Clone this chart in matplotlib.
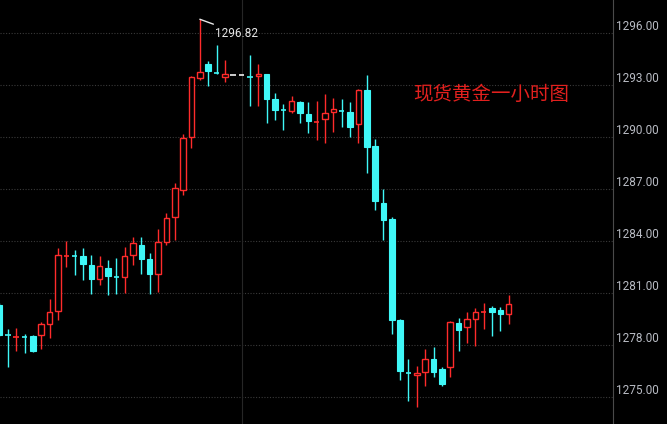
import matplotlib
matplotlib.use("Agg")
import matplotlib.pyplot as plt
from matplotlib.patches import Rectangle

# ---- data ----
opens = [1280.34, 1278.63, 1278.47, 1278.50, 1278.55, 1278.58, 1279.24, 1279.99, 1283.14, 1283.17,
         1283.16, 1282.64, 1281.84, 1282.47, 1281.96, 1281.95, 1283.22, 1283.80, 1282.99, 1282.12,
         1283.97, 1285.41, 1286.97, 1290.03, 1293.43, 1294.24, 1293.74, 1293.49, 1293.59, 1293.59,
         1293.52, 1293.55, 1293.66, 1292.22, 1291.61, 1291.53, 1292.05, 1291.36, 1290.87, 1291.07,
         1291.47, 1291.54, 1291.47, 1290.78, 1292.74, 1289.51, 1286.22, 1285.30, 1279.47, 1276.43,
         1276.30, 1276.47, 1277.22, 1276.64, 1276.76, 1279.30, 1279.07, 1279.53, 1279.92, 1280.16,
         1280.05, 1279.82]
highs = [1280.45, 1278.95, 1279.01, 1278.66, 1278.60, 1279.36, 1280.68, 1283.62, 1284.03, 1283.51,
         1283.62, 1283.22, 1283.16, 1282.93, 1283.05, 1283.68, 1284.26, 1284.26, 1283.34, 1284.72,
         1285.64, 1287.37, 1290.20, 1293.55, 1296.82, 1294.41, 1295.34, 1294.47, 1293.59, 1293.59,
         1294.76, 1294.24, 1293.66, 1292.57, 1291.93, 1292.39, 1292.11, 1292.05, 1292.11, 1292.51,
         1292.28, 1292.22, 1292.05, 1292.80, 1293.60, 1289.90, 1287.03, 1285.40, 1279.50, 1277.22,
         1276.82, 1277.80, 1277.91, 1276.76, 1279.40, 1279.59, 1279.93, 1280.16, 1280.45, 1280.28,
         1280.22, 1280.91]
lows = [1278.55, 1276.76, 1277.70, 1277.57, 1277.65, 1277.80, 1278.43, 1279.47, 1282.53, 1282.07,
        1281.78, 1280.97, 1281.49, 1280.91, 1280.97, 1281.03, 1282.64, 1282.12, 1280.97, 1281.09,
        1283.80, 1284.09, 1286.68, 1289.39, 1293.32, 1292.97, 1293.66, 1293.20, 1293.59, 1293.59,
        1291.82, 1291.82, 1290.84, 1291.01, 1290.43, 1291.41, 1290.84, 1290.26, 1289.86, 1289.68,
        1290.32, 1290.61, 1290.03, 1289.68, 1287.95, 1285.80, 1284.09, 1278.66, 1276.01, 1274.80,
        1274.45, 1275.66, 1276.18, 1275.66, 1276.18, 1277.68, 1278.14, 1277.97, 1278.95, 1278.55,
        1278.84, 1279.24]
closes = [1278.61, 1278.61, 1278.49, 1278.48, 1277.70, 1279.24, 1279.93, 1283.22, 1283.16, 1283.15,
          1282.70, 1281.84, 1282.59, 1282.01, 1281.95, 1283.16, 1283.91, 1282.99, 1282.12, 1283.97,
          1285.36, 1287.09, 1289.97, 1293.49, 1293.78, 1293.84, 1293.70, 1293.66, 1293.59, 1293.59,
          1293.48, 1293.66, 1292.22, 1291.59, 1291.59, 1292.11, 1291.41, 1290.95, 1290.91, 1291.41,
          1291.64, 1291.52, 1290.61, 1292.74, 1289.45, 1286.34, 1285.24, 1279.47, 1276.53, 1276.41,
          1276.41, 1277.22, 1276.47, 1275.78, 1279.36, 1278.89, 1279.53, 1279.93, 1279.94, 1279.93,
          1279.82, 1280.39]
tick_values = [1275, 1278, 1281, 1284, 1287, 1290, 1293, 1296]
title_text = "现货黄金一小时图"
peak_label = "1296.82"
peak_index = 24

# ---- style ----
BG = "#000000"
UP = "#ff2b2b"
DOWN = "#3ff7f7"
FLAT = "#f0f0f0"
GRID = "#3a3a3a"
LABEL = "#b9bcc4"

plt.rcParams['font.family'] = ['Noto Sans CJK SC', 'DejaVu Sans']

fig = plt.figure(figsize=(6.67, 4.24), dpi=100, facecolor=BG)
ax = fig.add_axes([0, 0, 613 / 667, 1])
ax.set_facecolor(BG)

W = 0.66
for i, (o, h, l, c) in enumerate(zip(opens, highs, lows, closes)):
    if c > o:
        col = UP
    elif c < o:
        col = DOWN
    else:
        col = FLAT
    if h > l:
        ax.vlines(i, l, h, color=col, linewidth=1.0, zorder=2)
    body = abs(c - o)
    lo = min(o, c)
    if body < 0.06:
        ax.hlines((o + c) / 2, i - W / 2, i + W / 2, color=col, linewidth=1.2, zorder=4)
    elif c > o:
        ax.add_patch(Rectangle((i - W / 2, lo), W, body, facecolor=BG, edgecolor=col,
                               linewidth=1.0, zorder=3))
    else:
        ax.add_patch(Rectangle((i - W / 2, lo), W, body, facecolor=col, edgecolor=col,
                               linewidth=0.8, zorder=3))

ax.set_xlim(0.06, 73.5)
ax.set_ylim(1273.47, 1297.93)

# grid
for v in tick_values:
    ax.axhline(v, color=GRID, linewidth=0.8, linestyle=(0, (1, 1.5)), zorder=1)
ax.axvline(29, color="#262626", linewidth=0.8, zorder=1)

for s in ["top", "left", "bottom"]:
    ax.spines[s].set_visible(False)
ax.spines["right"].set_color("#4a4a4a")
ax.spines["right"].set_linewidth(0.8)
ax.set_xticks([])
ax.yaxis.tick_right()
ax.set_yticks(tick_values)
ax.set_yticklabels([f"{v:.2f}" for v in tick_values], fontfamily="Roboto",
                   fontsize=8.5, color=LABEL)
for lab in ax.get_yticklabels():
    lab.set_verticalalignment("bottom")
ax.tick_params(axis="y", length=0, pad=2)

# peak annotation
ax.annotate(peak_label, xy=(peak_index, highs[peak_index]),
            xytext=(peak_index + 1.85, highs[peak_index] - 0.82),
            fontsize=8.5, fontfamily="Roboto", color="#e8e8e8", va="center", ha="left",
            arrowprops=dict(arrowstyle="-", color="#e8e8e8", lw=1.0,
                            connectionstyle="angle,angleA=0,angleB=-20,rad=0",
                            shrinkA=0, shrinkB=0),
            zorder=6)

ax.text(49.6, 1292.5, title_text, color="#e2201e", fontsize=14, va="center", ha="left",
        zorder=6)

fig.savefig("out.png", dpi=100, facecolor=BG)
